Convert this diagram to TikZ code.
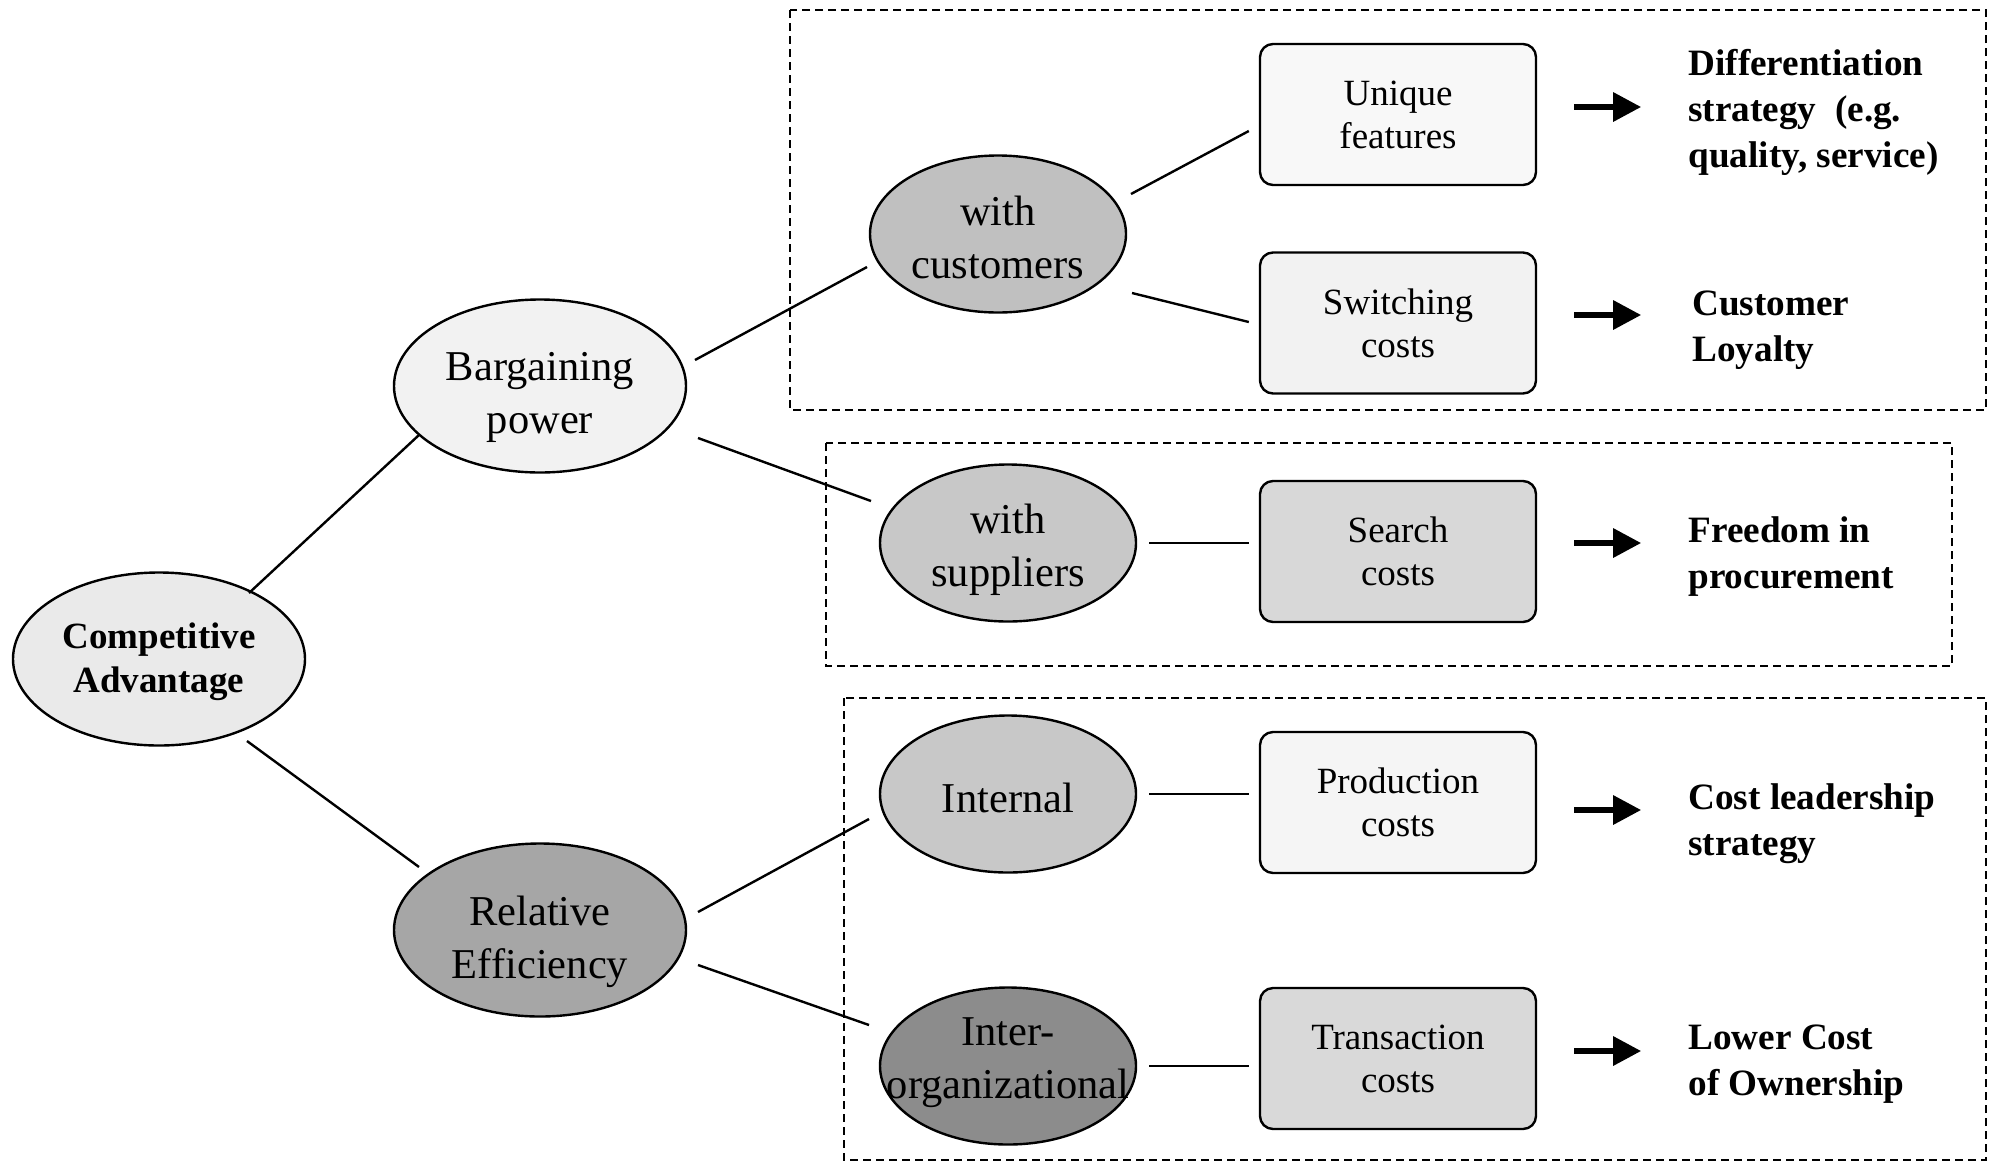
\documentclass[tikz,border=0pt]{standalone}
\usepackage{fontspec}
\setmainfont{Liberation Serif}
\usetikzlibrary{arrows.meta,calc,shapes.geometric}
\begin{document}
\begin{tikzpicture}[x=0.5pt,y=-0.5pt,
  oval/.style={ellipse, draw, line width=1.2pt, inner sep=0pt},
  bigoval/.style={oval, minimum width=146pt, minimum height=86.5pt},
  smalloval/.style={oval, minimum width=128pt, minimum height=78.5pt},
  bigtext/.style={align=center, inner sep=0pt, font=\fontsize{21.25}{26.5}\selectfont},
  headtext/.style={align=center, inner sep=0pt, font=\fontsize{18.5}{22}\selectfont\bfseries},
  costbox/.style={draw, line width=1.2pt, rounded corners=6.5pt, minimum width=138pt,
    minimum height=70.5pt, align=center, inner sep=0pt, font=\fontsize{18.5}{21.5}\selectfont},
  result/.style={anchor=west, align=left, inner sep=0pt, font=\fontsize{18.6}{23}\selectfont\bfseries},
  link/.style={line width=1.2pt},
  leadsto/.style={line width=3pt, -{Triangle[length=14pt,width=14pt]}},
  group/.style={line width=1.1pt, dash pattern=on 4pt off 2.5pt},
]
\useasboundingbox (0,0) rectangle (1990,1163);
\fill[white] (0,0) rectangle (1990,1163);

% dashed groupings
\draw[group] (790,10) rectangle (1986,410);
\draw[group] (826,443) rectangle (1952,666);
\draw[group] (844,698) rectangle (1986,1160);

% root and first level
\node[bigoval, fill={rgb,255:red,234;green,234;blue,234}] (ca) at (159,659) {};
\node[headtext] (ca-t) at ($(ca)+(0,3)$) {Competitive\\Advantage};
\node[bigoval, fill={rgb,255:red,242;green,242;blue,242}] (bp) at (540,386) {};
\node[bigtext] (bp-t) at ($(bp)+(0,11)$) {Bargaining\\power};
\node[bigoval, fill={rgb,255:red,166;green,166;blue,166}] (re) at (540,930) {};
\node[bigtext] (re-t) at ($(re)+(0,12)$) {Relative\\Efficiency};

% second level
\node[smalloval, fill={rgb,255:red,192;green,192;blue,192}] (wc) at (998,234) {};
\node[bigtext] (wc-t) at ($(wc)+(0,3)$) {with\\customers};
\node[smalloval, fill={rgb,255:red,200;green,200;blue,200}] (ws) at (1008,543) {};
\node[bigtext] (ws-t) at ($(ws)+(0,7)$) {with\\suppliers};
\node[smalloval, fill={rgb,255:red,200;green,200;blue,200}] (in) at (1008,794) {};
\node[bigtext] (in-t) at ($(in)+(0,4)$) {Internal};
\node[smalloval, fill={rgb,255:red,140;green,140;blue,140}] (io) at (1008,1066) {};
\node[bigtext] (io-t) at ($(io)+(0,-3)$) {Inter-\\organizational};

% cost drivers
\node[costbox, fill={rgb,255:red,248;green,248;blue,248}] (uf) at (1398,114.5) {Unique\\features};
\node[costbox, fill={rgb,255:red,242;green,242;blue,242}] (sc) at (1398,323) {Switching\\costs};
\node[costbox, fill={rgb,255:red,216;green,216;blue,216}] (se) at (1398,551.5) {Search\\costs};
\node[costbox, fill={rgb,255:red,245;green,245;blue,245}] (pc) at (1398,802.5) {Production\\costs};
\node[costbox, fill={rgb,255:red,217;green,217;blue,217}] (tc) at (1398,1058.5) {Transaction\\costs};

% outcomes
\node[result] (r1) at (1688,112) {Differentiation\\strategy~ (e.g.\\quality, service)};
\node[result] (r2) at (1692,330) {Customer\\Loyalty};
\node[result] (r3) at (1688,557) {Freedom in\\procurement};
\node[result] (r4) at (1688,824) {Cost leadership\\strategy};
\node[result] (r5) at (1688,1064) {Lower Cost\\of Ownership};

% tree connectors
\draw[link] ($(ca)+(90,-66)$) -- ($(bp)+(-121,49)$);
\draw[link] ($(ca)+(88,82)$) -- ($(re)+(-121,-63)$);
\draw[link] ($(bp)+(155,-26)$) -- ($(wc)+(-131,33)$);
\draw[link] ($(bp)+(158,52)$) -- ($(ws)+(-137,-42)$);
\draw[link] ($(re)+(158,-18)$) -- ($(in)+(-139,25)$);
\draw[link] ($(re)+(158,35)$) -- ($(io)+(-139,-41)$);
\draw[link] ($(wc)+(133,-40)$) -- ($(uf.west)+(-10,16.5)$);
\draw[link] ($(wc)+(134,59)$) -- ($(sc.west)+(-10,-1)$);
\draw[link] ($(ws)+(141,0)$) -- ($(se.west)+(-10,-8.5)$);
\draw[link] ($(in)+(141,0)$) -- ($(pc.west)+(-10,-8.5)$);
\draw[link] ($(io)+(141,0)$) -- ($(tc.west)+(-10,7.5)$);

% arrows to outcomes
\draw[leadsto] ($(uf.east)+(37,-7.5)$) -- ($(uf.east)+(104,-7.5)$);
\draw[leadsto] ($(sc.east)+(37,-8)$) -- ($(sc.east)+(104,-8)$);
\draw[leadsto] ($(se.east)+(37,-8.5)$) -- ($(se.east)+(104,-8.5)$);
\draw[leadsto] ($(pc.east)+(37,7.5)$) -- ($(pc.east)+(104,7.5)$);
\draw[leadsto] ($(tc.east)+(37,-7.5)$) -- ($(tc.east)+(104,-7.5)$);
\end{tikzpicture}
\end{document}
